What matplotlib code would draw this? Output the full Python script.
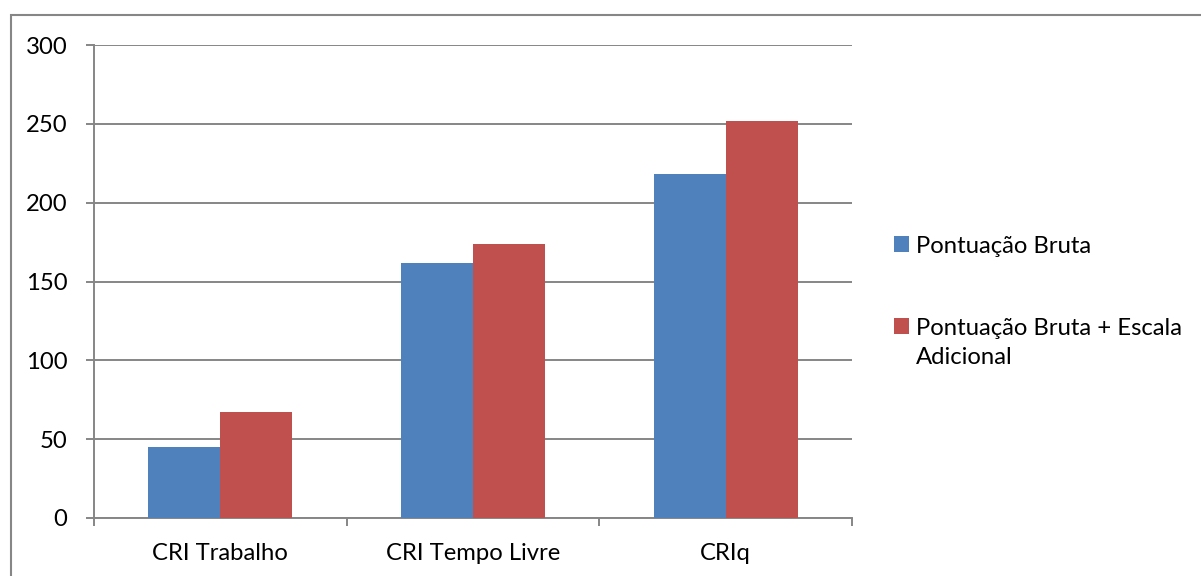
import matplotlib
matplotlib.use("Agg")
import matplotlib.pyplot as plt
import numpy as np
from matplotlib.patches import Rectangle

categories = ["CRI Trabalho", "CRI Tempo Livre", "CRIq"]
pontuacao_bruta = [45, 162, 218]
pontuacao_escala = [67, 174, 252]
series_labels = ["Pontuação Bruta", "Pontuação Bruta + Escala\nAdicional"]
yticks = [0, 50, 100, 150, 200, 250, 300]

plt.rcParams['font.family'] = ['Lato', 'DejaVu Sans']
W, H = 1201, 576
fig = plt.figure(figsize=(W / 100, H / 100), dpi=100)

# outer chart border
fig.patches.append(Rectangle((11 / W, -0.1), 1.2, (H - 15) / H + 0.1,
                             transform=fig.transFigure, fill=False,
                             edgecolor="#868686", linewidth=1.5))

ax = fig.add_axes([94 / W, (H - 518) / H, (852 - 94) / W, (518 - 45) / H])
grid_c = "#868686"
fs = 17.2
x = np.arange(len(categories))
bw = 0.285
ax.bar(x - bw / 2, pontuacao_bruta, bw, color="#4F81BD", label=series_labels[0], zorder=3)
ax.bar(x + bw / 2, pontuacao_escala, bw, color="#C0504D", label=series_labels[1], zorder=3)

ax.set_xlim(-0.5, len(categories) - 0.5)
ax.set_ylim(0, 300)
ax.set_yticks(yticks)
ax.yaxis.grid(True, color=grid_c, linewidth=1.4, zorder=0)
ax.set_axisbelow(True)
for s in ["top", "right"]:
    ax.spines[s].set_visible(False)
for s in ["left", "bottom"]:
    ax.spines[s].set_color(grid_c)
    ax.spines[s].set_linewidth(1.4)

ax.set_xticks(np.arange(len(categories) + 1) - 0.5)
ax.set_xticklabels([])
ax.set_xticks(x, minor=True)
ax.set_xticklabels(categories, minor=True)
ax.tick_params(axis="x", which="major", length=6, width=1.4, color=grid_c, direction="out")
ax.tick_params(axis="x", which="minor", length=0, pad=18, labelsize=fs)
ax.tick_params(axis="y", length=6, width=1.4, color=grid_c, direction="out", pad=13, labelsize=fs)

leg = ax.legend(loc="upper left", bbox_to_anchor=(1.055, 0.596), frameon=False,
                fontsize=fs, handlelength=0.65, handleheight=0.65,
                handletextpad=0.3, labelspacing=2.55, borderpad=0, borderaxespad=0)
for t in leg.get_texts():
    t.set_linespacing(1.45)
for col in leg._legend_handle_box.get_children():
    for item in col.get_children():
        item.align = "top"

fig.savefig("out.png", dpi=100)
